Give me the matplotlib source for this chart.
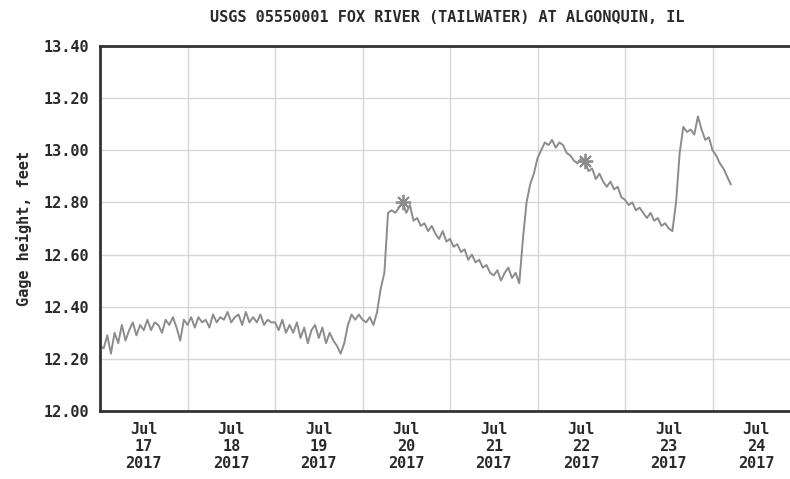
import matplotlib
matplotlib.use('Agg')
import matplotlib.pyplot as plt
import pandas as pd

# hourly gage height readings (feet), starting 2017-07-17 00:00
start = '2017-07-17 00:00'
jul17 = [12.25, 12.24, 12.29, 12.22, 12.30, 12.26, 12.33, 12.27, 12.31, 12.34, 12.29, 12.33,
         12.31, 12.35, 12.31, 12.34, 12.33, 12.30, 12.35, 12.33, 12.36, 12.32, 12.27, 12.35]
jul18 = [12.33, 12.36, 12.32, 12.36, 12.34, 12.35, 12.32, 12.37, 12.34, 12.36, 12.35, 12.38,
         12.34, 12.36, 12.37, 12.33, 12.38, 12.34, 12.36, 12.34, 12.37, 12.33, 12.35, 12.34]
jul19 = [12.34, 12.31, 12.35, 12.30, 12.33, 12.30, 12.34, 12.28, 12.32, 12.26, 12.31, 12.33,
         12.28, 12.32, 12.26, 12.30, 12.27, 12.25, 12.22, 12.26, 12.33, 12.37, 12.35, 12.37]
jul20 = [12.35, 12.34, 12.36, 12.33, 12.38, 12.47, 12.53, 12.76, 12.77, 12.76, 12.78, 12.80,
         12.76, 12.79, 12.73, 12.74, 12.71, 12.72, 12.69, 12.71, 12.68, 12.66, 12.69, 12.65]
jul21 = [12.66, 12.63, 12.64, 12.61, 12.62, 12.58, 12.60, 12.57, 12.58, 12.55, 12.56, 12.53,
         12.52, 12.54, 12.50, 12.53, 12.55, 12.51, 12.53, 12.49, 12.66, 12.80, 12.87, 12.91]
jul22 = [12.97, 13.00, 13.03, 13.02, 13.04, 13.01, 13.03, 13.02, 12.99, 12.98, 12.96, 12.95,
         12.97, 12.96, 12.92, 12.93, 12.89, 12.91, 12.88, 12.86, 12.88, 12.85, 12.86, 12.82]
jul23 = [12.81, 12.79, 12.80, 12.77, 12.78, 12.76, 12.74, 12.76, 12.73, 12.74, 12.71, 12.72,
         12.70, 12.69, 12.80, 12.99, 13.09, 13.07, 13.08, 13.06, 13.13, 13.08, 13.04, 13.05]
jul24 = [13.00, 12.98, 12.95, 12.93, 12.90, 12.87]

gage = jul17 + jul18 + jul19 + jul20 + jul21 + jul22 + jul23 + jul24

# field measurement marks
meas_times = ['2017-07-20 11:00', '2017-07-22 13:00']
meas_vals = [12.80, 12.96]

yticks = [12.00, 12.20, 12.40, 12.60, 12.80, 13.00, 13.20, 13.40]
days = pd.date_range('2017-07-17', '2017-07-25', freq='D')


def main():
    times = pd.date_range(start, periods=len(gage), freq='h')
    font = 'DejaVu Sans Mono'
    fs = 11
    ink = '#2a2a2a'

    fig = plt.figure(figsize=(7.9, 4.79), dpi=100)
    ax = fig.add_axes([100 / 790, 68 / 479, 700 / 790, 365 / 479])

    ax.plot(times, gage, color='#8c8c8c', lw=1.4)
    ax.plot(pd.to_datetime(meas_times), meas_vals, ls='none', marker=(8, 2, 0),
            ms=11, mew=1.3, color='#8c8c8c')

    ax.set_xlim(days[0], days[-1])
    ax.set_ylim(12.0, 13.4)

    # grid at midnight, labels at noon
    ax.set_xticks(days, minor=True)
    noons = days[:-1] + pd.Timedelta(hours=12)
    ax.set_xticks(noons)
    ax.set_xticklabels([d.strftime('Jul\n%d\n%Y') for d in noons],
                       fontfamily=font, fontweight='bold', fontsize=fs,
                       linespacing=1.15, color=ink)
    ax.set_yticks(yticks)
    ax.set_yticklabels(['%.2f' % v for v in yticks], fontfamily=font,
                       fontweight='bold', fontsize=fs, color=ink)
    ax.tick_params(axis='both', which='both', length=0)
    ax.tick_params(axis='x', pad=8)
    ax.tick_params(axis='y', pad=8)

    ax.grid(True, which='minor', axis='x', color='#d6d6d6', lw=1.0)
    ax.grid(True, which='major', axis='y', color='#d6d6d6', lw=1.0)
    ax.set_axisbelow(True)

    for side in ['left', 'bottom', 'top']:
        ax.spines[side].set_color('#333333')
        ax.spines[side].set_linewidth(2)
    ax.spines['right'].set_visible(False)

    ax.set_ylabel('Gage height, feet', fontfamily=font, fontweight='bold',
                  fontsize=fs, color=ink, labelpad=8)
    fig.text(447 / 790, 1 - 18 / 479, 'USGS 05550001 FOX RIVER (TAILWATER) AT ALGONQUIN, IL',
             ha='center', va='center', fontfamily=font, fontweight='bold',
             fontsize=fs, color=ink)

    fig.savefig('out.png', dpi=100)


if __name__ == '__main__':
    main()
